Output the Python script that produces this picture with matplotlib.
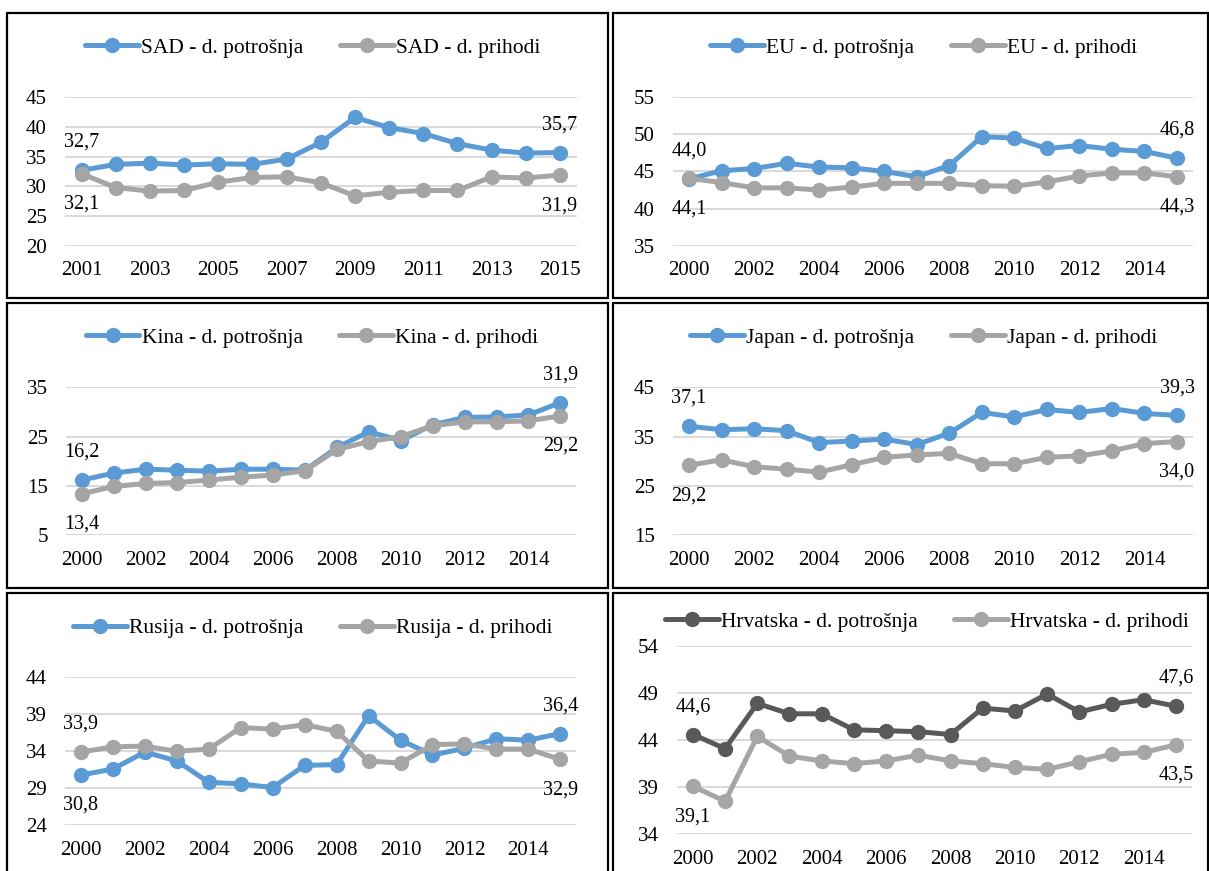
import matplotlib
matplotlib.use("Agg")
import matplotlib.pyplot as plt
from matplotlib.patches import Rectangle

plt.rcParams['font.family'] = ['Liberation Serif', 'DejaVu Serif']

years_sad = list(range(2001, 2016))
years = list(range(2000, 2016))

sad_potrosnja = [32.7, 33.7, 33.9, 33.6, 33.8, 33.7, 34.6, 37.4, 41.6, 39.9, 38.9, 37.2, 36.1, 35.6, 35.7]
sad_prihodi = [32.1, 29.8, 29.2, 29.3, 30.7, 31.5, 31.6, 30.6, 28.4, 29.0, 29.3, 29.3, 31.6, 31.4, 31.9]

eu_potrosnja = [44.0, 45.1, 45.4, 46.1, 45.6, 45.5, 45.0, 44.3, 45.8, 49.7, 49.5, 48.1, 48.5, 48.0, 47.7, 46.8]
eu_prihodi = [44.1, 43.5, 42.8, 42.8, 42.5, 42.9, 43.4, 43.4, 43.4, 43.1, 43.0, 43.6, 44.4, 44.8, 44.8, 44.3]

kina_potrosnja = [16.2, 17.6, 18.4, 18.2, 18.0, 18.4, 18.4, 18.2, 22.8, 26.0, 24.2, 27.4, 28.9, 29.0, 29.4, 31.9]
kina_prihodi = [13.4, 14.9, 15.5, 15.7, 16.2, 16.8, 17.2, 18.1, 22.4, 24.0, 25.0, 27.2, 28.0, 28.0, 28.2, 29.2]

japan_potrosnja = [37.1, 36.4, 36.6, 36.2, 33.8, 34.1, 34.5, 33.4, 35.7, 39.9, 39.0, 40.5, 39.9, 40.7, 39.7, 39.3]
japan_prihodi = [29.2, 30.3, 28.9, 28.4, 27.8, 29.3, 30.8, 31.3, 31.6, 29.5, 29.5, 30.8, 31.1, 32.1, 33.6, 34.0]

rusija_potrosnja = [30.8, 31.6, 33.9, 32.7, 29.8, 29.6, 29.1, 32.1, 32.2, 38.8, 35.5, 33.5, 34.4, 35.7, 35.5, 36.4]
rusija_prihodi = [33.9, 34.6, 34.7, 34.0, 34.3, 37.2, 37.0, 37.6, 36.7, 32.7, 32.4, 34.9, 35.0, 34.3, 34.3, 32.9]

hr_potrosnja = [44.6, 43.1, 47.9, 46.8, 46.8, 45.1, 45.0, 44.9, 44.6, 47.4, 47.1, 48.9, 47.0, 47.8, 48.3, 47.6]
hr_prihodi = [39.1, 37.5, 44.4, 42.3, 41.8, 41.5, 41.8, 42.4, 41.8, 41.5, 41.1, 40.9, 41.7, 42.5, 42.7, 43.5]

W, H = 1209, 871
fig = plt.figure(figsize=(W / 100, H / 100), dpi=100)

BLUE = '#5B9BD5'
GRAY = '#A5A5A5'
DARK = '#595959'
LIGHT = '#A6A6A6'

panels = [
    dict(x=years_sad, a=sad_potrosnja, b=sad_prihodi, la='SAD - d. potrošnja', lb='SAD - d. prihodi',
         ca=BLUE, cb=GRAY, yt=[20, 25, 30, 35, 40, 45],
         box=(64.6, 577, 97.3, 245.7), leg=(313, 47.5)),
    dict(x=years, a=eu_potrosnja, b=eu_prihodi, la='EU - d. potrošnja', lb='EU - d. prihodi',
         ca=BLUE, cb=GRAY, yt=[35, 40, 45, 50, 55],
         box=(672.7, 1193.3, 97.3, 245.7), leg=(923.6, 47.5)),
    dict(x=years, a=kina_potrosnja, b=kina_prihodi, la='Kina - d. potrošnja', lb='Kina - d. prihodi',
         ca=BLUE, cb=GRAY, yt=[5, 15, 25, 35],
         box=(65.8, 576.3, 387.3, 535.3), leg=(312, 337.5)),
    dict(x=years, a=japan_potrosnja, b=japan_prihodi, la='Japan - d. potrošnja', lb='Japan - d. prihodi',
         ca=BLUE, cb=GRAY, yt=[15, 25, 35, 45],
         box=(672.7, 1193.3, 387.3, 535.3), leg=(923.5, 337.5)),
    dict(x=years, a=rusija_potrosnja, b=rusija_prihodi, la='Rusija - d. potrošnja', lb='Rusija - d. prihodi',
         ca=BLUE, cb=GRAY, yt=[24, 29, 34, 39, 44],
         box=(65, 576.3, 677.3, 825.3), leg=(312.5, 628)),
    dict(x=years, a=hr_potrosnja, b=hr_prihodi, la='Hrvatska - d. potrošnja', lb='Hrvatska - d. prihodi',
         ca=DARK, cb=LIGHT, yt=[34, 39, 44, 49, 54],
         box=(676.8, 1192, 646, 834.3), leg=(927, 621.5)),
]

# panel border boxes (px): left, right, top, bottom
borders = [
    (7.3, 608.3, 12.7, 298.3), (612.7, 1207.5, 12.7, 298.3),
    (7.3, 608.3, 302.7, 588.3), (612.7, 1207.5, 302.7, 588.3),
    (7.3, 608.3, 592.7, 880), (612.7, 1207.5, 592.7, 880),
]
for (l, r, t, b) in borders:
    fig.add_artist(Rectangle((l / W, 1 - b / H), (r - l) / W, (b - t) / H,
                             transform=fig.transFigure, fill=False,
                             edgecolor='black', linewidth=1.6, clip_on=False))


def fmt(v):
    return f"{v:.1f}".replace('.', ',')


for p in panels:
    l, r, t, b = p['box']
    ax = fig.add_axes([l / W, 1 - b / H, (r - l) / W, (b - t) / H])
    n = len(p['x'])
    idx = list(range(n))
    ax.plot(idx, p['a'], color=p['ca'], lw=3.6, marker='o', ms=10, label=p['la'],
            solid_capstyle='round', zorder=3)
    ax.plot(idx, p['b'], color=p['cb'], lw=3.6, marker='o', ms=10, label=p['lb'],
            solid_capstyle='round', zorder=4)
    ax.set_xlim(-0.5, n - 0.5)
    ax.set_ylim(p['yt'][0], p['yt'][-1])
    ax.set_yticks(p['yt'])
    ax.set_xticks(idx[::2])
    ax.set_xticklabels([str(y) for y in p['x'][::2]])
    ax.tick_params(axis='both', length=0, labelsize=15)
    ax.tick_params(axis='x', pad=11)
    ax.tick_params(axis='y', pad=13)
    for s in ax.spines.values():
        s.set_visible(False)
    ax.grid(axis='y', color='#D9D9D9', lw=1.4)
    ax.set_axisbelow(True)
    ax.patch.set_alpha(0)
    # data labels on first and last points (potrošnja above unless clearly lower)
    for i in (0, n - 1):
        va_, vb_ = p['a'][i], p['b'][i]
        if va_ >= vb_ - 0.2:
            hi, lo = va_, vb_
        else:
            hi, lo = vb_, va_
        ax.annotate(fmt(hi), (i, hi), xytext=(0, 20), textcoords='offset points',
                    ha='center', va='center', fontsize=14.5, annotation_clip=False)
        ax.annotate(fmt(lo), (i, lo), xytext=(0, -22), textcoords='offset points',
                    ha='center', va='center', fontsize=14.5, annotation_clip=False)
    cx, cy = p['leg']
    ax.legend(loc='center', bbox_to_anchor=(cx / W, 1 - cy / H), bbox_transform=fig.transFigure,
              ncol=2, frameon=False, fontsize=15.5, handlelength=2.5, handletextpad=0.1,
              columnspacing=1.7, borderpad=0, borderaxespad=0)

fig.savefig('out.png', dpi=100)
